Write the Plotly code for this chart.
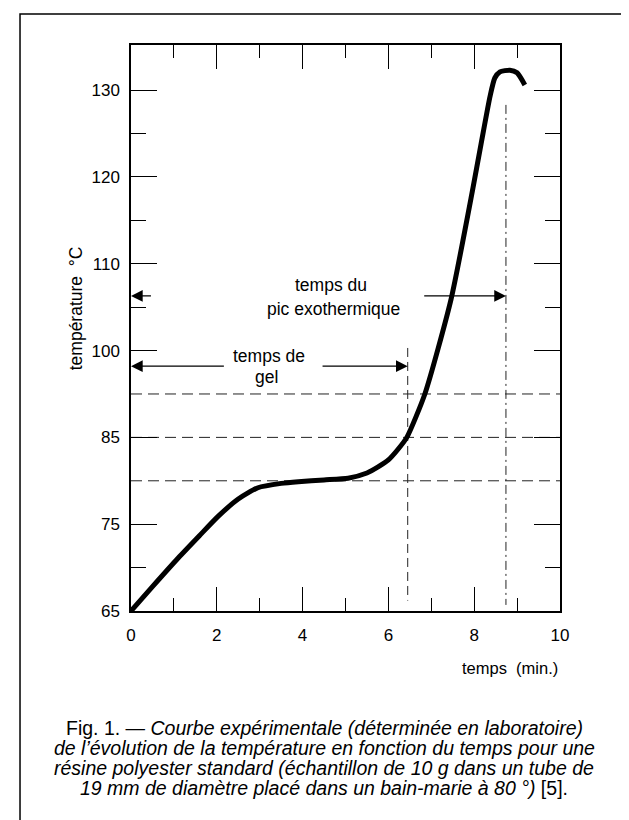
import plotly.graph_objects as go

# ---------------- data ----------------
# y values are positions on the printed (evenly spaced) temperature scale
time_min = [0, 0.5, 1.1, 1.6, 2.03, 2.5, 2.96, 3.5, 3.9, 4.5, 5.06, 5.5, 5.76,
            6.0, 6.22, 6.43, 6.85, 7.46, 7.97, 8.16, 8.37, 8.48, 8.6, 8.83, 9.0, 9.18]
temp_pos = [65, 67.8, 71.1, 73.7, 75.9, 77.9, 79.2, 79.7, 79.9, 80.1, 80.3, 80.9, 81.6,
            82.4, 83.6, 85.0, 90.0, 100.9, 113.7, 118.8, 124.3, 126.4, 127.1, 127.3, 127.0, 125.6]

x_tick_vals = [0, 2, 4, 6, 8, 10]
x_minor_vals = [1, 3, 5, 7, 9]
y_tick_vals = [65, 75, 85, 95, 105, 115, 125]
y_tick_text = ["65", "75", "85", "100", "110", "120", "130"]
y_minor_vals = [70, 100, 110, 120]

ref_levels = [80, 85, 90]          # horizontal dashed guide lines
gel_time = 6.45                    # temps de gel
peak_time = 8.74                   # temps du pic exothermique
gel_arrow_y = 93.2
peak_arrow_y = 101.3

FONT = "Liberation Sans, Arial, Helvetica, sans-serif"

fig = go.Figure()

# guide lines
for lv in ref_levels:
    fig.add_trace(go.Scatter(x=[0, 10], y=[lv, lv], mode="lines",
                             line=dict(color="#222", width=1, dash="11px,6px"),
                             hoverinfo="skip", showlegend=False))
fig.add_trace(go.Scatter(x=[gel_time, gel_time], y=[95.3, 66.2], mode="lines",
                         line=dict(color="#222", width=1, dash="9px,5px"),
                         hoverinfo="skip", showlegend=False))
fig.add_trace(go.Scatter(x=[peak_time, peak_time], y=[123.3, 65.7], mode="lines",
                         line=dict(color="#222", width=1, dash="9px,4px,2px,4px"),
                         hoverinfo="skip", showlegend=False))

# main curve
fig.add_trace(go.Scatter(x=time_min, y=temp_pos, mode="lines",
                         line=dict(color="black", width=5, shape="spline", smoothing=0.6),
                         showlegend=False))

ann = []
def arrow(x_tip, x_tail, y):
    ann.append(dict(x=x_tip, y=y, ax=x_tail, ay=y, xref="x", yref="y", axref="x", ayref="y",
                    text="", showarrow=True, arrowhead=2, arrowsize=1.8, arrowwidth=1.3,
                    arrowcolor="black"))

arrow(0, 2.2, gel_arrow_y)
arrow(gel_time, 4.43, gel_arrow_y)
arrow(0, 0.5, peak_arrow_y)
arrow(peak_time, 6.8, peak_arrow_y)

def label(x, y, t, size=17.5, xanchor="center", xref="x", yref="y"):
    ann.append(dict(x=x, y=y, xref=xref, yref=yref, text=t, showarrow=False,
                    xanchor=xanchor, yanchor="middle",
                    font=dict(family=FONT, size=size, color="black")))

label(3.22, 94.4, "temps de")
label(3.15, 91.9, "gel")
label(4.66, 102.5, "temps du")
label(4.71, 99.8, "pic exothermique")

# axis titles
label(10, -0.1007, "temps  (min.)", size=16.5, xanchor="right", xref="x", yref="paper")
ann.append(dict(x=-0.128, y=0.535, xref="paper", yref="paper", text="température  °C",
                showarrow=False, textangle=-90, xanchor="center", yanchor="middle",
                font=dict(family=FONT, size=17.5, color="black")))

# caption
caption = [
    "Fig. 1. — <i>Courbe expérimentale (déterminée en laboratoire)</i>",
    "<i>de l’évolution de la température en fonction du temps pour une</i>",
    "<i>résine polyester standard (échantillon de 10 g dans un tube de</i>",
    "<i>19 mm de diamètre placé dans un bain-marie à 80 °)</i> [5].",
]
cap_y = [720, 740, 760, 780]
for t, py in zip(caption, cap_y):
    label((316 - 123) / 429, (603 - py) / 566, t, size=19.5, xref="paper", yref="paper")

axis_common = dict(showline=True, linecolor="black", linewidth=1.5, mirror="ticks",
                   ticks="inside", tickcolor="black", tickwidth=1.2, showgrid=False,
                   zeroline=False, tickfont=dict(family=FONT, size=17, color="black"))

fig.update_layout(
    width=629, height=820,
    margin=dict(l=123, r=77, t=37, b=217, pad=0),
    plot_bgcolor="white", paper_bgcolor="white",
    annotations=ann,
    xaxis=dict(range=[0, 10], tickvals=x_tick_vals, ticklen=24, ticklabelstandoff=8,
               minor=dict(tickvals=x_minor_vals, ticks="inside", ticklen=13, tickwidth=1.2,
                          tickcolor="black", showgrid=False),
               **axis_common),
    yaxis=dict(range=[65, 130.2], tickvals=y_tick_vals, ticktext=y_tick_text, ticklen=26,
               ticklabelstandoff=6,
               minor=dict(tickvals=y_minor_vals, ticks="inside", ticklen=15, tickwidth=1.2,
                          tickcolor="black", showgrid=False),
               **axis_common),
    shapes=[dict(type="path", xref="paper", yref="paper",
                 path="M -0.2587,-0.45 L -0.2587,1.0548 L 1.1538,1.0548 L 1.1538,-0.45",
                 line=dict(color="black", width=1.5))],
    showlegend=False,
)

fig.write_html("out.html")
